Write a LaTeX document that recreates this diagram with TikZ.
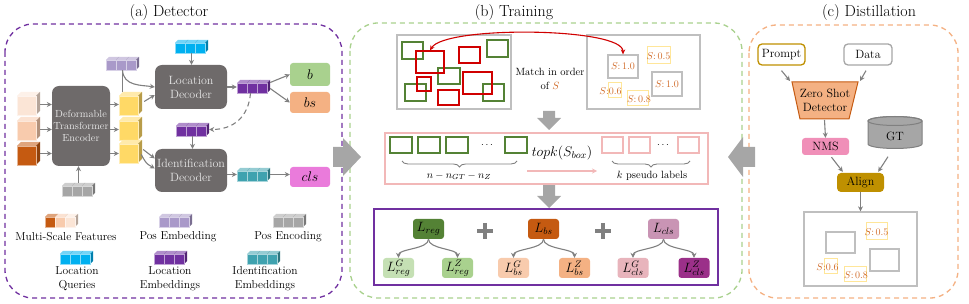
\RequirePackage{fix-cm}
\documentclass[tikz,border=0pt]{standalone}
\usepackage{fontspec}
\usetikzlibrary{arrows.meta,shapes.geometric,decorations.pathreplacing,calc}
\definecolor{dgray}{HTML}{6E6A6A}
\definecolor{agray}{HTML}{808080}
\definecolor{lgray}{HTML}{BFBFBF}
\definecolor{bgray}{HTML}{A6A6A6}
\definecolor{ppl}{HTML}{7030A0}
\definecolor{grn}{HTML}{A9D18E}
\definecolor{lgrn}{HTML}{C5E0B4}
\definecolor{dgrn}{HTML}{548235}
\definecolor{org}{HTML}{F4B183}
\definecolor{lorg}{HTML}{F8CBAD}
\definecolor{dorg}{HTML}{C55A11}
\definecolor{peach}{HTML}{FBE5D6}
\definecolor{yel}{HTML}{FFD966}
\definecolor{lyel}{HTML}{FFE699}
\definecolor{cyanq}{HTML}{00B0F0}
\definecolor{pembc}{HTML}{A999C9}
\definecolor{tealc}{HTML}{3FA2AF}
\definecolor{magc}{HTML}{EA7BDB}
\definecolor{redb}{HTML}{D00000}
\definecolor{pinkb}{HTML}{F2B8B8}
\definecolor{clsp}{HTML}{C994B4}
\definecolor{clsl}{HTML}{E8B4BC}
\definecolor{clsd}{HTML}{9B3089}
\definecolor{goldc}{HTML}{BF9000}
\definecolor{nmsp}{HTML}{F08FB8}
\definecolor{sorg}{HTML}{D06A28}
\definecolor{dtext}{HTML}{E6E6E6}

\newcommand\mycube[6]{%
 \fill[#6] (#1,#2) rectangle ++(#3,#4);
 \fill[#6!55!white] (#1,#2) -- ++(#5,-#5) -- ++(#3,0) -- ++(-#5,#5) -- cycle;
 \fill[#6!72!black] (#1+#3,#2) -- ++(#5,-#5) -- ++(0,#4) -- ++(-#5,#5) -- cycle;
 \draw[white!55!#6, line width=0.3pt] (#1,#2) rectangle ++(#3,#4);
}
\newcommand\cuberow[4]{%
 \foreach \i in {0,1,2}{\mycube{#2+\i*10}{#3}{10}{10}{3}{#4}}
 \node[cubefit] (#1) at (#2+16.5,#3+3.5) {};
}

\tikzset{
 arr/.style={draw=agray, line width=1.1pt, -{Stealth[length=5pt,width=5pt]}},
 darkbox/.style={fill=dgray, rounded corners=7pt, text=dtext, align=center, inner sep=0pt, font=\fontsize{12}{14}\selectfont},
 colbox/.style={rounded corners=3pt, inner sep=0pt, font=\fontsize{14}{16}\selectfont},
 lossbox/.style={rounded corners=3pt, inner sep=0pt, minimum width=31pt, minimum height=20pt, font=\fontsize{13.5}{15}\selectfont},
 legtxt/.style={align=center, font=\fontsize{11.5}{14}\selectfont},
 ttl/.style={font=\fontsize{16}{18}\selectfont},
 panel/.style={dash pattern=on 5pt off 4pt, line width=1.3pt, rounded corners=28pt},
 imgbox/.style={draw=lgray, line width=1.3pt, inner sep=0pt},
 gbox/.style={draw=dgrn, line width=1.2pt},
 rbox/.style={draw=redb, line width=1.2pt},
 ylab/.style={draw=lyel, line width=1pt, inner sep=0pt},
 slab/.style={text=sorg, font=\fontsize{10}{11}\selectfont, inner sep=0pt},
 cubefit/.style={inner sep=0pt, minimum width=33pt, minimum height=13pt},
 cbox/.style={rounded corners=4pt, inner sep=0pt, font=\fontsize{12}{14}\selectfont},
}

\begin{document}
\begin{tikzpicture}[x=1pt,y=-1pt]
\useasboundingbox (0,0) rectangle (969,304);
% titles
\node[ttl] (ta) at (169,13) {(a) Detector};
\node[ttl] (tb) at (514,13) {(b) Training};
\node[ttl] (tc) at (869,13) {(c) Distillation};
% panels
\draw[panel, draw=ppl] (5,24) rectangle (342,298);
\draw[panel, draw=grn] (350,23) rectangle (742,298);
\draw[panel, draw=org] (749,25) rectangle (958,298);

%% ---------------- (a) Detector
\mycube{17}{96}{19}{19}{4}{peach}
\mycube{17}{121}{19}{19}{4}{lorg}
\mycube{17}{146}{19}{19}{4}{dorg}
\node[inner sep=0, minimum width=23pt, minimum height=23pt] (ms1) at (28.5,104.5) {};
\node[inner sep=0, minimum width=23pt, minimum height=23pt] (ms2) at (28.5,129.5) {};
\node[inner sep=0, minimum width=23pt, minimum height=23pt] (ms3) at (28.5,153.5) {};

\node[darkbox, minimum width=58pt, minimum height=80pt, font=\fontsize{10.3}{12}\selectfont] (enc) at (81,126) {Deformable\\Transformer\\Encoder};

\cuberow{pe}{106}{60}{pembc}
\draw[draw=agray, line width=1.1pt] (pe.south) -- (pe.south |- 0,92);

\mycube{119}{96}{19}{19}{4}{yel}
\mycube{119}{121}{19}{19}{4}{yel}
\mycube{119}{144}{19}{19}{4}{yel}
\node[inner sep=0, minimum width=23pt, minimum height=23pt] (y1) at (130.5,103.5) {};
\node[inner sep=0, minimum width=23pt, minimum height=23pt] (y2) at (130.5,128.5) {};
\node[inner sep=0, minimum width=23pt, minimum height=23pt] (y3) at (130.5,151.5) {};

\foreach \m/\yy in {ms1/y1, ms2/y2, ms3/y3} {
 \draw[arr] (\m.east) -- (\m.east -| enc.west);
 \draw[arr] (\m.east -| enc.east) -- (\m.east -| \yy.west);
}

\cuberow{pen}{62}{186}{bgray}
\draw[arr] (pen.north) -- (pen.north |- enc.south);

\node[darkbox, minimum width=72pt, minimum height=44pt] (locdec) at (191,87) {Location\\Decoder};
\draw[arr] (pe.south) .. controls +(1,16) and +(-14,-2) .. (locdec.west);
\draw[arr] ($(y1.east)+(2,-2)$) -- ($(locdec.west)+(0,8)$);

\cuberow{lq}{175}{43}{cyanq}
\draw[arr] (lq.south) -- (lq.south |- locdec.north);

\cuberow{le1}{237}{83}{ppl}
\draw[arr] (locdec.east) -- (locdec.east -| le1.west);

\node[colbox, fill=grn, minimum width=40pt, minimum height=23pt] (bb) at (310,74.5) {$b$};
\node[colbox, fill=org, minimum width=40pt, minimum height=21pt] (bs) at (310,102.5) {$bs$};
\draw[arr] ($(le1.east)+(0,-4)$) -- (bb.west);
\draw[arr] ($(le1.east)+(0,2)$) -- (bs.west);

\cuberow{le2}{176}{126}{ppl}
\draw[arr, dash pattern=on 5pt off 3.5pt] ($(le1.south)+(-3,0)$) .. controls +(-2,24) and +(24,0) .. (le2.east);

\node[darkbox, minimum width=72pt, minimum height=43pt] (iddec) at (191,170.5) {Identification\\Decoder};
\draw[arr] (le2.south) -- (le2.south |- iddec.north);
\draw[arr] ($(y3.east)+(1,-2)$) -- ($(iddec.west)+(0,-12)$);
\draw[arr] ($(y3.east)+(-1,3)$) .. controls +(5,9) .. ($(iddec.west)+(0,-2)$);

\cuberow{ide}{237}{171}{tealc}
\draw[arr] (iddec.east |- ide.west) -- (ide.west);
\node[colbox, fill=magc, minimum width=40pt, minimum height=20pt] (cls) at (310,177) {$cls$};
\draw[arr] (ide.east) -- (ide.east -| cls.west);

% legend
\mycube{45}{217}{10}{10}{3}{dorg}
\mycube{55}{217}{10}{10}{3}{lorg}
\mycube{65}{217}{10}{10}{3}{peach}
\node[cubefit] (lg1) at (61.5,220.5) {};
\cuberow{lg2}{159}{217}{pembc}
\cuberow{lg3}{273}{217}{bgray}
\cuberow{lg4}{60}{254}{cyanq}
\cuberow{lg5}{154}{254}{ppl}
\cuberow{lg6}{247}{254}{tealc}
\node[legtxt] (lt1) at (66,237) {Multi-Scale Features};
\node[legtxt] (lt2) at (178,237) {Pos Embedding};
\node[legtxt] (lt3) at (288,237) {Pos Encoding};
\node[legtxt] (lt4) at (77,279) {Location\\Queries};
\node[legtxt] (lt5) at (170,279) {Location\\Embeddings};
\node[legtxt] (lt6) at (265,279) {Identification\\Embeddings};

%% ---------------- (b) Training
\node[imgbox, minimum width=114pt, minimum height=74pt] (img1) at (454,72) {};
\node[imgbox, minimum width=113pt, minimum height=74pt] (img2) at (643.5,72) {};
\foreach \xa/\ya/\xb/\yb in {402/42/423/59, 487/40/508/57, 438/68/460/84, 405/84/426/101, 483/84/504/101}
 \draw[gbox] (\xa,\ya) rectangle (\xb,\yb);
\foreach \xa/\ya/\xb/\yb in {459/47/480/63, 417/77/431/91, 463/72/492/94, 438/90/459/105}
 \draw[rbox] (\xa,\ya) rectangle (\xb,\yb);
\node[rbox, inner sep=0, minimum width=28pt, minimum height=22pt] (rb) at (430,62) {};

\node[align=center, font=\fontsize{10.5}{14}\selectfont] (match) at (550,79) {Match in order\\of \textcolor{sorg}{$S$}};

\node[draw=lgray, line width=1.3pt, minimum width=30pt, minimum height=23pt, slab] (gb1) at (623,66.5) {$S$:\,1.0};
\node[draw=lgray, line width=1.3pt, minimum width=30pt, minimum height=24pt, slab] (gb2) at (667,84) {$S$:\,1.0};
\node[ylab, minimum width=23pt, minimum height=17pt] (yb1) at (658.5,55.5) {};
\node[slab] (sl1) at (658.5,56) {$S$:\,0.5};
\node[ylab, minimum width=13pt, minimum height=15pt] (yb2) at (614.5,90.5) {};
\node[slab] (sl2) at (610.5,91) {$S$:0.6};
\node[ylab, minimum width=21pt, minimum height=15pt] (yb3) at (637.5,98.5) {};
\node[slab] (sl3) at (639,99) {$S$:\,0.8};

\draw[draw=redb, line width=1.1pt, {Stealth[length=5pt,width=4.5pt]}-{Stealth[length=5pt,width=4.5pt]}] (rb.north) .. controls +(15,-25) and +(0,-27) .. (gb1.north);

% fat arrows
\fill[bgray] (543,111) -- (555,111) -- (555,118) -- (561,118) -- (549,130) -- (537,118) -- (543,118) -- cycle;
\fill[bgray] (543,185) -- (555,185) -- (555,196) -- (561,196) -- (549,208) -- (537,196) -- (543,196) -- cycle;
\fill[bgray] (333,147) -- (343,147) -- (343,138) -- (361,157) -- (343,176) -- (343,167) -- (333,167) -- cycle;
\fill[bgray] (755,147) -- (743,147) -- (743,137) -- (728,157) -- (743,177) -- (743,167) -- (755,167) -- cycle;

\node[draw=pinkb, line width=1.3pt, minimum width=323pt, minimum height=51pt, inner sep=0] (pbox) at (546.5,158.5) {};
\foreach \xa in {390,418,446,505} \draw[draw=dgrn, line width=1.4pt] (\xa,137) rectangle ++(22,16);
\foreach \xa in {602,629,678} \draw[draw=pinkb, line width=1.4pt] (\xa,137) rectangle ++(21,16);
\node[font=\fontsize{10}{12}\selectfont] (dots1) at (487,145) {$\cdots$};
\node[font=\fontsize{10}{12}\selectfont] (dots2) at (663,145) {$\cdots$};
\draw[draw=agray, line width=0.9pt, decorate, decoration={brace, mirror, amplitude=6pt}] (402,161) -- (517,161);
\draw[draw=agray, line width=0.9pt, decorate, decoration={brace, mirror, amplitude=6pt}] (612,161) -- (690,161);
\node[font=\fontsize{10.5}{12}\selectfont] (nl) at (459,176) {$n-n_{GT}-n_Z$};
\node[font=\fontsize{10.5}{12}\selectfont] (kl) at (652,176) {$k$ pseudo labels};
\node[font=\fontsize{14}{16}\selectfont] (topk) at (562,153) {$topk(S_{box})$};
\coordinate (pa1) at (527,171);
\coordinate (pa2) at (597,171);
\draw[draw=pinkb, line width=1.2pt, -{Stealth[length=5pt,width=5pt]}] (pa1) -- (pa2);

\node[draw=ppl, line width=1.3pt, minimum width=344pt, minimum height=76pt, inner sep=0] (lbox) at (546,247) {};
\node[lossbox, fill=dgrn] (lreg) at (428.5,229) {$L_{reg}$};
\node[lossbox, fill=dorg] (lbs) at (543.5,229) {$L_{bs}$};
\node[lossbox, fill=clsp] (lcls) at (663.5,229) {$L_{cls}$};
\node[lossbox, fill=lgrn] (lrg) at (398.5,268) {$L^G_{reg}$};
\node[lossbox, fill=grn] (lrz) at (457.5,268) {$L^Z_{reg}$};
\node[lossbox, fill=lorg] (lbg) at (513.5,268) {$L^G_{bs}$};
\node[lossbox, fill=org] (lbz) at (574.5,268) {$L^Z_{bs}$};
\node[lossbox, fill=clsl] (lcg) at (633,268) {$L^G_{cls}$};
\node[lossbox, fill=clsd] (lcz) at (694,268) {$L^Z_{cls}$};
\foreach \pp/\cc in {lreg/lrg, lreg/lrz, lbs/lbg, lbs/lbz, lcls/lcg, lcls/lcz}
 \draw[arr] (\pp.south) .. controls +(0,10) and +(0,-9) .. (\cc.north);
\draw[agray, line width=4pt] (477,231) -- (493,231) (485,223) -- (485,239);
\draw[agray, line width=4pt] (595,231) -- (611,231) (603,223) -- (603,239);

%% ---------------- (c) Distillation
\node[cbox, draw=goldc, line width=1.3pt, fill=white, minimum width=47pt, minimum height=21pt] (prompt) at (781.5,54.5) {Prompt};
\node[cbox, draw=bgray, line width=1.3pt, fill=white, minimum width=48pt, minimum height=21pt] (data) at (868,54.5) {Data};
\fill[org, draw=dorg, line width=1pt] (792,82) -- (858,82) -- (849,119) -- (800,119) -- cycle;
\node[align=center, font=\fontsize{12}{14}\selectfont] (zsd) at (825,100) {Zero Shot\\Detector};
\coordinate (zTL) at (790,81);
\coordinate (zTR) at (860,81);
\coordinate (zB) at (824.5,120);
\draw[arr] ($(prompt.south)+(0,5)$) -- (zTL);
\draw[arr] ($(data.south)+(-2,5)$) -- (zTR);
\node[cbox, fill=nmsp, rounded corners=3pt, minimum width=47pt, minimum height=17pt] (nms) at (825.5,146.5) {NMS};
\draw[arr] (zB) -- (nms.north);

\fill[bgray, draw=agray, line width=1pt] (868,121) -- (868,144) arc[start angle=180, end angle=0, x radius=27, y radius=4.5] -- (922,121) arc[start angle=0, end angle=-180, x radius=27, y radius=4.5] -- cycle;
\draw[agray, line width=1pt] (895,121) ellipse [x radius=27, y radius=4.5];
\node[inner sep=0, minimum width=54pt, minimum height=25pt, font=\fontsize{12}{14}\selectfont] (gt) at (895,136) {GT};

\node[cbox, fill=goldc, minimum width=47pt, minimum height=19pt] (align) at (860.5,182.5) {Align};
\draw[arr] ($(nms.south)+(6,2)$) -- ($(align.north west)+(6,-1)$);
\draw[arr] ($(gt.south)+(-7,8)$) -- ($(align.north east)+(-6,-1)$);

\node[imgbox, minimum width=113pt, minimum height=74pt] (out) at (860.5,249) {};
\draw[arr] (align.south) -- (align.south |- out.north);
\draw[draw=lgray, line width=1.3pt] (826,232) rectangle (855,253);
\draw[draw=lgray, line width=1.3pt] (870,249) rectangle (899,271);
\node[ylab, minimum width=21pt, minimum height=17pt] (oy1) at (876.5,231.5) {};
\node[slab] (os1) at (876.5,232) {$S$:\,0.5};
\node[ylab, minimum width=13pt, minimum height=15pt] (oy2) at (830.5,266.5) {};
\node[slab] (os2) at (827.5,267) {$S$:0.6};
\node[ylab, minimum width=22pt, minimum height=15pt] (oy3) at (855,274.5) {};
\node[slab] (os3) at (856,275) {$S$:\,0.8};
\end{tikzpicture}
\end{document}
